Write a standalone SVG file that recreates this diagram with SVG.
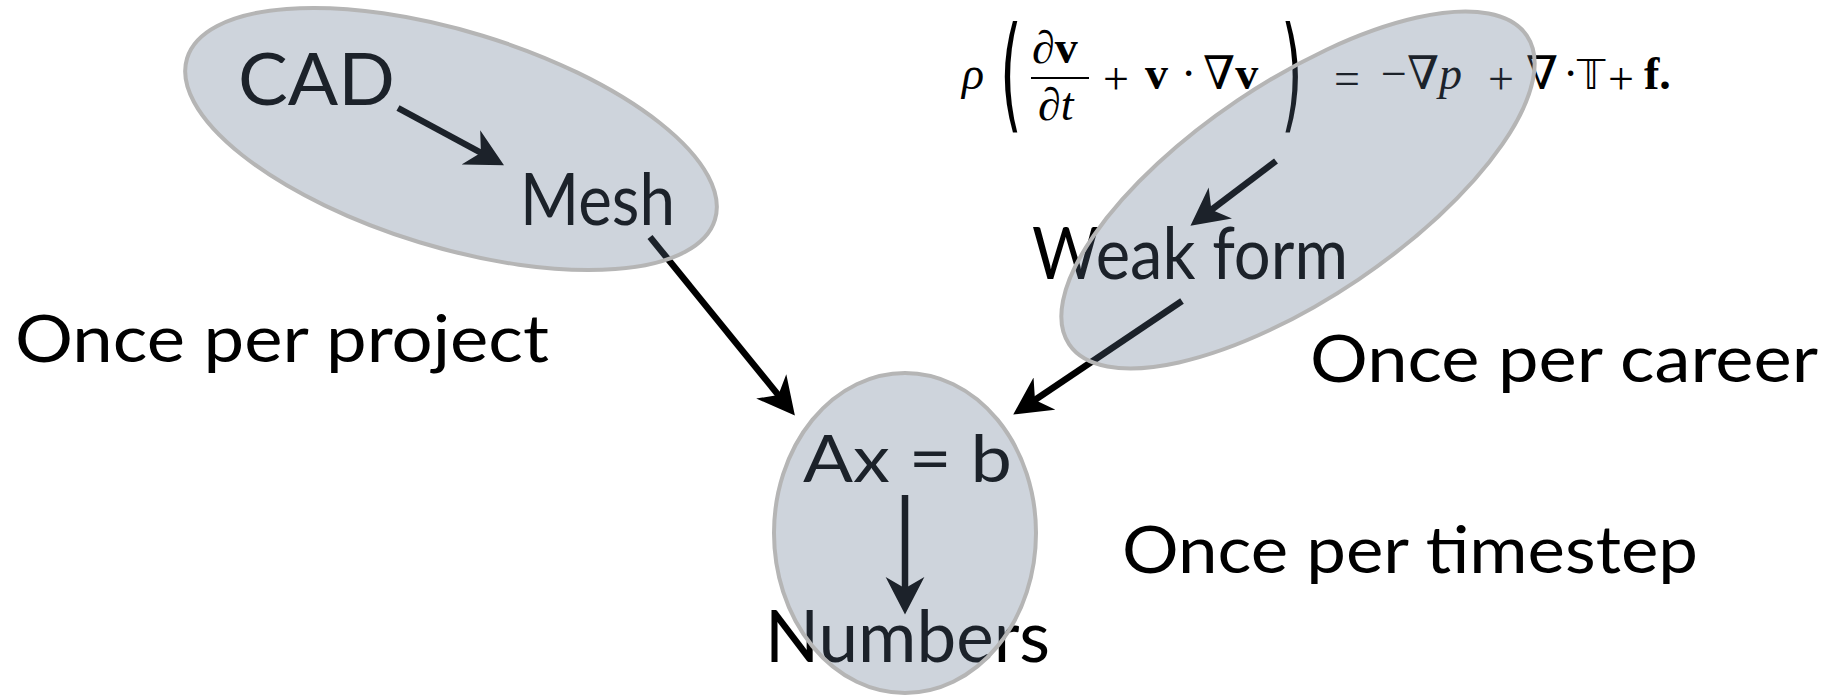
<svg xmlns="http://www.w3.org/2000/svg" width="1843" height="697" viewBox="0 0 1843 697">
<style>
.lbl{font-family:Lato,"Open Sans","Liberation Sans",sans-serif;fill:#000;}
.big{font-size:72px;}
.mid{font-size:66px;}
.eq{font-family:"Liberation Serif","DejaVu Serif",serif;font-size:46px;fill:#000;}
.par{font-family:"DejaVu Sans",sans-serif;font-size:124px;fill:#000;}
.it{font-style:italic;}
.bf{font-weight:bold;}
.zone{fill:rgb(93,112,140);fill-opacity:0.3;stroke:#b5b5b5;stroke-width:4;}
.conn{stroke:#000;stroke-width:6.5;fill:none;marker-end:url(#arrow);}
</style>
<defs>
<marker id="arrow" markerUnits="userSpaceOnUse" markerWidth="40" markerHeight="40" viewBox="0 0 32 32" refX="12" refY="16" orient="auto">
<path d="M30,16 L0,0.5 L9,16 L0,31.5 Z" fill="#000"/>
</marker>
</defs>

<g id="connectors">
<line class="conn" x1="398" y1="108" x2="484.2" y2="154.5"/>
<line class="conn" x1="650" y1="237" x2="780.7" y2="398"/>
<line class="conn" x1="1276" y1="161" x2="1208.4" y2="212.1"/>
<line class="conn" x1="1182" y1="301" x2="1031.9" y2="402"/>
<line class="conn" x1="905" y1="495" x2="905" y2="592"/>
</g>

<g id="node-equation">
<text class="eq it" x="962" y="89">ρ</text>
<text class="par" transform="translate(1000,116) scale(0.45,1)">(</text>
<text class="eq" x="1032" y="63">∂<tspan class="bf">v</tspan></text>
<line x1="1031" y1="78" x2="1089" y2="78" stroke="#000" stroke-width="2"/>
<text class="eq" x="1038" y="120">∂<tspan class="it">t</tspan></text>
<text class="eq" x="1103" y="94">+</text>
<text class="eq bf" x="1145" y="89">v</text>
<text class="eq" x="1181" y="89">·</text>
<text class="eq" x="1203" y="89">∇<tspan class="bf">v</tspan></text>
<text class="par" transform="translate(1281,116) scale(0.45,1)">)</text>
<text class="eq" x="1334" y="94">=</text>
<text class="eq" x="1381" y="89">−∇<tspan class="it">p</tspan></text>
<text class="eq" x="1488" y="94">+</text>
<text class="eq" x="1526" y="89">∇</text>
<text class="eq" x="1563" y="89">·</text>
<text class="eq" x="1577" y="89" style="font-family:'DejaVu Sans',sans-serif;font-size:40px">𝕋</text>
<text class="eq" x="1608" y="94">+</text>
<text class="eq bf" x="1644" y="89">f.</text>
</g>

<g id="node-cad"><text class="lbl big" x="238" y="105" textLength="157" lengthAdjust="spacingAndGlyphs">CAD</text></g>
<g id="node-mesh"><text class="lbl big" x="520" y="225" textLength="155" lengthAdjust="spacingAndGlyphs">Mesh</text></g>
<g id="node-weak"><text class="lbl big" x="1032" y="279" textLength="316" lengthAdjust="spacingAndGlyphs">Weak form</text></g>
<g id="node-axb"><text class="lbl" x="803" y="482" style="font-size:66px" textLength="209" lengthAdjust="spacingAndGlyphs">Ax = b</text></g>
<g id="node-numbers"><text class="lbl big" x="765" y="662" textLength="285" lengthAdjust="spacingAndGlyphs">Numbers</text></g>

<g id="label-project"><text class="lbl mid" x="15" y="362" textLength="534" lengthAdjust="spacingAndGlyphs">Once per project</text></g>
<g id="label-career"><text class="lbl mid" x="1310" y="382" textLength="508" lengthAdjust="spacingAndGlyphs">Once per career</text></g>
<g id="label-timestep"><text class="lbl mid" x="1122" y="573" textLength="576" lengthAdjust="spacingAndGlyphs">Once per timestep</text></g>

<g id="zone-project"><ellipse class="zone" cx="451" cy="139" rx="276" ry="108" transform="rotate(17 451 139)"/></g>
<g id="zone-career"><ellipse class="zone" cx="1298" cy="190" rx="276" ry="108" transform="rotate(-34 1298 190)"/></g>
<g id="zone-timestep"><ellipse class="zone" cx="905" cy="533" rx="131" ry="160"/></g>
</svg>
